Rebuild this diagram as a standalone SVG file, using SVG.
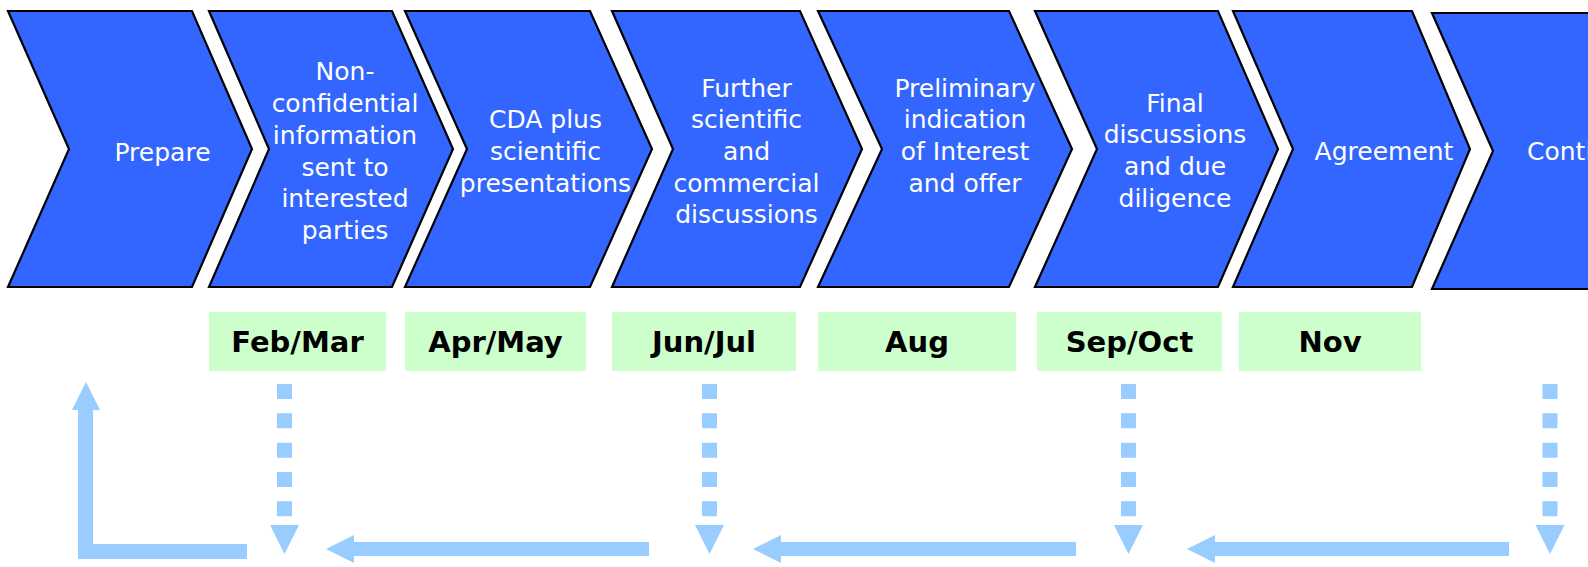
<svg xmlns="http://www.w3.org/2000/svg" width="1588" height="567" viewBox="0 0 1588 567">
<defs>
<style>
.chev{fill:#3366FF;stroke:#000;stroke-width:2.2;stroke-linejoin:miter}
.lbl{font-family:"DejaVu Sans","Liberation Sans",sans-serif;font-size:25px;fill:#fff;text-anchor:middle}
.lbl-start{font-family:"DejaVu Sans","Liberation Sans",sans-serif;font-size:25px;fill:#fff}
.date{fill:#CCFFCC}
.dtxt{font-family:"DejaVu Sans","Liberation Sans",sans-serif;font-size:29px;font-weight:bold;fill:#000;text-anchor:middle}
.dash{stroke:#99CCFF;stroke-width:15;stroke-dasharray:15 14.33;fill:none}
.blue{fill:#99CCFF}
</style>
</defs>
<rect width="1588" height="567" fill="#fff"/>

<g id="step-prepare">
<polygon class="chev" points="8,11 192,11 252,149 192,287 8,287 69,149"/>
<text class="lbl" x="162.5" y="160.5">Prepare</text>
</g>
<g id="step-nonconfidential">
<polygon class="chev" points="209,11 392,11 453,149 392,287 209,287 269,149"/>
<text class="lbl"><tspan x="345" y="80.4">Non-</tspan><tspan x="345" y="112.1">confidential</tspan><tspan x="345" y="143.8">information</tspan><tspan x="345" y="175.5">sent to</tspan><tspan x="345" y="207.2">interested</tspan><tspan x="345" y="238.9">parties</tspan></text>
</g>
<g id="step-cda">
<polygon class="chev" points="405,11 590,11 652,149 590,287 405,287 467,149"/>
<text class="lbl"><tspan x="545.5" y="128.3">CDA plus</tspan><tspan x="545.5" y="160">scientific</tspan><tspan x="545.5" y="191.7">presentations</tspan></text>
</g>
<g id="step-further">
<polygon class="chev" points="612,11 800,11 862,149 800,287 612,287 673,149"/>
<text class="lbl"><tspan x="746.5" y="96.6">Further</tspan><tspan x="746.5" y="128.3">scientific</tspan><tspan x="746.5" y="160">and</tspan><tspan x="746.5" y="191.7">commercial</tspan><tspan x="746.5" y="223.4">discussions</tspan></text>
</g>
<g id="step-preliminary">
<polygon class="chev" points="818,11 1009,11 1072,149 1009,287 818,287 882,149"/>
<text class="lbl"><tspan x="965" y="96.7">Preliminary</tspan><tspan x="965" y="128.3">indication</tspan><tspan x="965" y="160">of Interest</tspan><tspan x="965" y="191.7">and offer</tspan></text>
</g>
<g id="step-final">
<polygon class="chev" points="1035,11 1218,11 1278,149 1218,287 1035,287 1097,149"/>
<text class="lbl"><tspan x="1175" y="111.7">Final</tspan><tspan x="1175" y="143.3">discussions</tspan><tspan x="1175" y="175">and due</tspan><tspan x="1175" y="206.7">diligence</tspan></text>
</g>
<g id="step-agreement">
<polygon class="chev" points="1233,11 1412,11 1470,149 1412,287 1233,287 1293,149"/>
<text class="lbl" x="1384" y="160">Agreement</text>
</g>
<g id="step-conti">
<polygon class="chev" points="1432,13 1600,13 1600,289 1432,289 1493,151"/>
<text class="lbl-start" x="1527" y="160">Conti</text>
</g>

<g id="date-febmar"><rect class="date" x="209" y="312" width="177" height="59"/><text class="dtxt" x="297.5" y="352">Feb/Mar</text></g>
<g id="date-aprmay"><rect class="date" x="405" y="312" width="181" height="59"/><text class="dtxt" x="495.5" y="352">Apr/May</text></g>
<g id="date-junjul"><rect class="date" x="612" y="312" width="184" height="59"/><text class="dtxt" x="704" y="352">Jun/Jul</text></g>
<g id="date-aug"><rect class="date" x="818" y="312" width="198" height="59"/><text class="dtxt" x="917" y="352">Aug</text></g>
<g id="date-sepoct"><rect class="date" x="1037" y="312" width="185" height="59"/><text class="dtxt" x="1129.5" y="352">Sep/Oct</text></g>
<g id="date-nov"><rect class="date" x="1239" y="312" width="182" height="59"/><text class="dtxt" x="1330" y="352">Nov</text></g>

<g id="connectors">
<line class="dash" x1="284.5" y1="384" x2="284.5" y2="516.5"/>
<polygon class="blue" points="270,525 299,525 284.5,554"/>
<line class="dash" x1="709.5" y1="384" x2="709.5" y2="516.5"/>
<polygon class="blue" points="695,525 724,525 709.5,554"/>
<line class="dash" x1="1128.5" y1="384" x2="1128.5" y2="516.5"/>
<polygon class="blue" points="1114,525 1143,525 1128.5,554"/>
<line class="dash" x1="1550" y1="384" x2="1550" y2="516.5"/>
<polygon class="blue" points="1535.5,525 1564.5,525 1550,554"/>

<polygon class="blue" points="326,549 354,535 354,542 649,542 649,556 354,556 354,563"/>
<polygon class="blue" points="753,549 781,535 781,542 1076,542 1076,556 781,556 781,563"/>
<polygon class="blue" points="1187,549 1215,535 1215,542 1509,542 1509,556 1215,556 1215,563"/>

<polygon class="blue" points="86,382 100,410 93,410 93,544 247,544 247,559 78,559 78,410 72,410"/>
</g>
</svg>
